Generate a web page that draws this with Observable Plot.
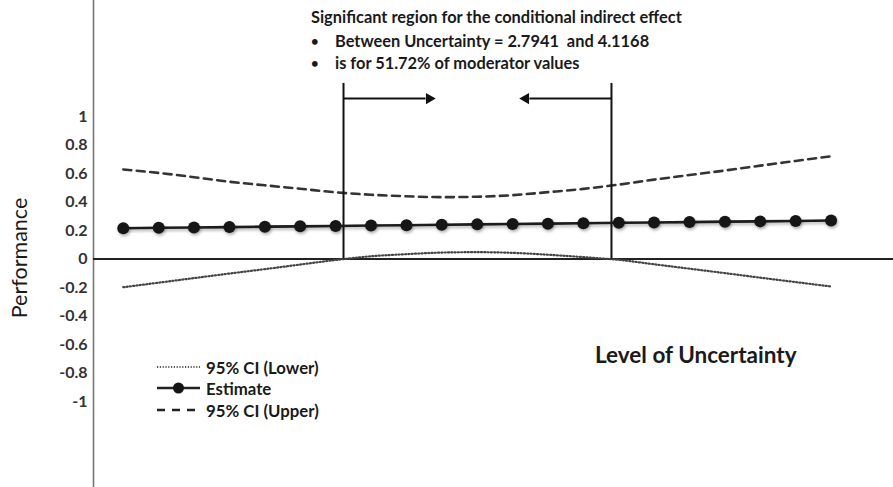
<!DOCTYPE html>
<html>
<head>
<meta charset="utf-8">
<script src="https://cdn.jsdelivr.net/npm/d3@7"></script>
<script src="https://cdn.jsdelivr.net/npm/@observablehq/plot@0.6"></script>
<style>
  html, body { margin: 0; padding: 0; background: #fff; }
  #chart { position: relative; width: 893px; height: 487px; font-family: Lato, "Open Sans", sans-serif; color: #1a1a1a; }
  #chart > svg { position: absolute; left: 0; top: 0; }
  .note { position: absolute; white-space: pre; font-weight: bold; font-size: 16.4px; line-height: 20px; }
  .bullet { position: absolute; font-size: 13px; line-height: 20px; font-weight: bold; }
  .ytitle { position: absolute; left: 19px; top: 258px; transform: translate(-50%, -50%) rotate(-90deg); font-size: 21.5px; white-space: nowrap; }
  .xtitle { position: absolute; left: 595px; top: 343px; font-size: 22.5px; font-weight: bold; white-space: nowrap; line-height: 24px; }
  .legend-row { position: absolute; left: 157px; height: 20px; display: flex; align-items: center; font-weight: bold; font-size: 16.8px; white-space: nowrap; }
  #chart .legend-row svg { position: static; margin-right: 6px; flex: none; }
</style>
</head>
<body>
<div id="chart"></div>
<script>
// Level of uncertainty (moderator) at which the conditional indirect effect was probed
const uncertainty = [1.707, 1.882, 2.056, 2.231, 2.406, 2.580, 2.755, 2.930, 3.105, 3.279, 3.454,
                     3.629, 3.803, 3.978, 4.153, 4.327, 4.502, 4.677, 4.851, 5.026, 5.201];
// Conditional indirect effect on performance
const estimate = [0.216, 0.219, 0.221, 0.224, 0.227, 0.229, 0.232, 0.235, 0.237, 0.240, 0.243,
                  0.246, 0.248, 0.251, 0.254, 0.256, 0.259, 0.262, 0.264, 0.267, 0.270];
// 95% confidence band
const ciLower = [-0.198, -0.166, -0.134, -0.102, -0.071, -0.039, -0.007, 0.019, 0.034, 0.045, 0.048,
                 0.043, 0.030, 0.013, -0.006, -0.037, -0.068, -0.099, -0.131, -0.162, -0.193];
const ciUpper = [0.628, 0.604, 0.574, 0.542, 0.517, 0.493, 0.468, 0.451, 0.440, 0.434, 0.437,
                 0.448, 0.469, 0.492, 0.522, 0.557, 0.589, 0.621, 0.655, 0.688, 0.721];
// Johnson–Neyman boundaries of the region of significance
const jnBounds = [2.7941, 4.1168];
const yTicks = [1, 0.8, 0.6, 0.4, 0.2, 0, -0.2, -0.4, -0.6, -0.8, -1];

const table = uncertainty.map((w, i) => ({w, est: estimate[i], lo: ciLower[i], hi: ciUpper[i]}));
const xDomain = [1.560, 5.509];
const arrowLen = 0.435;   // arrow length in moderator units
const arrowY = 1.126;     // arrow height in performance units
const arrowEnd = (d, i) => i === 0 ? d + arrowLen : d - arrowLen;

const plot = Plot.plot({
  width: 893,
  height: 487,
  marginLeft: 93,
  marginRight: 0,
  marginTop: 0,
  marginBottom: 0,
  style: {fontFamily: "Lato, sans-serif", fontSize: "16px", fontWeight: "bold", color: "#333", background: "transparent"},
  x: {domain: xDomain, axis: null},
  y: {domain: [-1.6035, 1.814], ticks: yTicks, tickSize: 0, tickPadding: 6, tickFormat: d => String(d), label: null},
  marks: [
    Plot.ruleX([xDomain[0]], {stroke: "#777", strokeWidth: 1.6}),
    Plot.ruleY([0], {stroke: "#222", strokeWidth: 2}),
    Plot.line(table, {x: "w", y: "lo", stroke: "#444", strokeWidth: 2.2, strokeDasharray: "1.1,2.2", curve: "monotone-x"}),
    Plot.line(table, {x: "w", y: "hi", stroke: "#333", strokeWidth: 2.6, strokeDasharray: "8,5.5", curve: "monotone-x"}),
    Plot.ruleX(jnBounds, {x: d => d, y1: 0, y2: 1.232, stroke: "#111", strokeWidth: 2}),
    Plot.link(jnBounds, {x1: d => d, x2: (d, i) => arrowEnd(d, i) + (i === 0 ? -0.03 : 0.03), y1: arrowY, y2: arrowY,
      stroke: "#111", strokeWidth: 2}),
    Plot.dot(jnBounds, {x: (d, i) => arrowEnd(d, i) + (i === 0 ? -0.012 : 0.012), y: arrowY, symbol: "triangle", r: 4.2,
      rotate: (d, i) => i === 0 ? 90 : -90, fill: "#111", stroke: "none"}),
    Plot.line(table, {x: "w", y: "est", stroke: "#1a1a1a", strokeWidth: 2.6}),
    Plot.dot(table, {x: "w", y: "est", r: 6, fill: "#151515", stroke: "none"})
  ]
});

// soft drop shadow under the estimate series
const svg = d3.select(plot);
svg.append("defs").html('<filter id="soft" x="-20%" y="-50%" width="140%" height="200%"><feDropShadow dx="1" dy="2" stdDeviation="1.6" flood-color="#000" flood-opacity="0.3"/></filter>');
const lines = svg.selectAll('g[aria-label="line"]').nodes();
d3.select(lines[lines.length - 1]).attr("filter", "url(#soft)");
const dots = svg.selectAll('g[aria-label="dot"]').nodes();
d3.select(dots[dots.length - 1]).attr("filter", "url(#soft)");

const chart = document.getElementById("chart");
chart.appendChild(plot);

// annotation block
const notes = [
  {text: "Significant region for the conditional indirect effect", left: 311, center: 17, bullet: false},
  {text: "Between Uncertainty = 2.7941  and 4.1168", left: 335, center: 41, bullet: true},
  {text: "is for 51.72% of moderator values", left: 335, center: 63, bullet: true}
];
for (const n of notes) {
  const d = document.createElement("div");
  d.className = "note";
  d.style.left = n.left + "px";
  d.style.top = (n.center - 10) + "px";
  d.textContent = n.text;
  chart.appendChild(d);
  if (n.bullet) {
    const b = document.createElement("div");
    b.className = "bullet";
    b.style.left = "311px";
    b.style.top = (n.center - 10) + "px";
    b.textContent = "•";
    chart.appendChild(b);
  }
}

const yt = document.createElement("div");
yt.className = "ytitle";
yt.textContent = "Performance";
chart.appendChild(yt);

const xt = document.createElement("div");
xt.className = "xtitle";
xt.textContent = "Level of Uncertainty";
chart.appendChild(xt);

// legend
const legend = [
  {label: "95% CI (Lower)", dash: "1.2,1.6", width: 1.4, dot: false, center: 367},
  {label: "Estimate", dash: null, width: 2.4, dot: true, center: 388},
  {label: "95% CI (Upper)", dash: "8,7", width: 2.4, dot: false, center: 410}
];
for (const l of legend) {
  const row = document.createElement("div");
  row.className = "legend-row";
  row.style.top = (l.center - 10) + "px";
  const s = d3.create("svg").attr("width", 43).attr("height", 20);
  s.append("line").attr("x1", 0).attr("x2", 43).attr("y1", 10).attr("y2", 10)
    .attr("stroke", "#222").attr("stroke-width", l.width).attr("stroke-dasharray", l.dash);
  if (l.dot) s.append("circle").attr("cx", 21.5).attr("cy", 10).attr("r", 5.5).attr("fill", "#151515");
  row.appendChild(s.node());
  const t = document.createElement("span");
  t.textContent = l.label;
  row.appendChild(t);
  chart.appendChild(row);
}
</script>
</body>
</html>
